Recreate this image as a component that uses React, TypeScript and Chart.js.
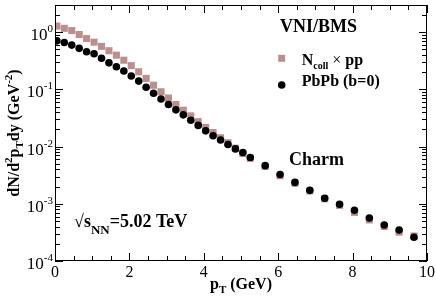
import React, { useEffect, useRef } from "react";
import { Chart, registerables } from "chart.js";

Chart.register(...registerables);

// ---- data ----
const pT = [
  0.05, 0.25, 0.45, 0.65, 0.85, 1.05, 1.25, 1.45, 1.65, 1.85,
  2.05, 2.25, 2.45, 2.65, 2.85, 3.05, 3.25, 3.45, 3.65, 3.85,
  4.05, 4.25, 4.45, 4.65, 4.85, 5.05, 5.25,
  5.65, 6.05, 6.45, 6.85, 7.25, 7.65, 8.05, 8.45, 8.85, 9.25, 9.65,
];
const ncollPP = [
  1.284, 1.172, 1.07, 0.913, 0.779, 0.672, 0.567, 0.476, 0.398, 0.325,
  0.261, 0.204, 0.156, 0.1186, 0.0912, 0.0708, 0.0547, 0.0434, 0.0345, 0.0273,
  0.0217, 0.01765, 0.0143, 0.0117, 0.0094, 0.00757, 0.00625,
  0.00452, 0.0031, 0.0023, 0.00168, 0.00122, 0.00094, 0.000708, 0.000523, 0.000401, 0.00032, 0.000273,
];
const pbpb = [
  0.708, 0.664, 0.597, 0.524, 0.457, 0.422, 0.352, 0.292, 0.249, 0.21,
  0.172, 0.14, 0.1096, 0.086, 0.068, 0.0547, 0.044, 0.036, 0.029, 0.0235,
  0.0189, 0.0155, 0.01305, 0.0109, 0.00913, 0.00788, 0.00646,
  0.00465, 0.00325, 0.00237, 0.00172, 0.00125, 0.00098, 0.000773, 0.000566, 0.000426, 0.000349, 0.000261,
];
const xMajorTicks = [0, 2, 4, 6, 8, 10];
const xTickLabels = ["0", "2", "4", "6", "8", "10"];
const xMinorTicks = [0.5, 1, 1.5, 2.5, 3, 3.5, 4.5, 5, 5.5, 6.5, 7, 7.5, 8.5, 9, 9.5];
const yExponents = [0, -1, -2, -3, -4];
const yMinorMultipliers = [2, 3, 4, 5, 6, 7, 8, 9];
const seriesLabels = ["N", "PbPb (b=0)"];

const SERIF = "'Liberation Serif', 'DejaVu Serif', serif";
const SQUARE_COLOR = "#bc8f8f";

type Seg = { t: string; font: string; dy?: number };

function drawRich(ctx: CanvasRenderingContext2D, segs: Seg[], x: number, y: number, align: "left" | "center" | "right") {
  let total = 0;
  const widths = segs.map((s) => {
    ctx.font = s.font;
    const w = ctx.measureText(s.t).width;
    total += w;
    return w;
  });
  let cx = x;
  if (align === "center") cx = x - total / 2;
  else if (align === "right") cx = x - total;
  ctx.textAlign = "left";
  ctx.textBaseline = "alphabetic";
  segs.forEach((s, i) => {
    ctx.font = s.font;
    ctx.fillText(s.t, cx, y + (s.dy || 0));
    cx += widths[i];
  });
}

const decorPlugin = {
  id: "decor",
  afterDatasetsDraw(chart: any) {
    const ctx: CanvasRenderingContext2D = chart.ctx;
    const xs = chart.scales.x;
    const ys = chart.scales.y;
    const { left, right, top, bottom } = chart.chartArea;
    ctx.save();
    ctx.strokeStyle = "#000";
    ctx.fillStyle = "#000";
    ctx.lineWidth = 1;

    // frame
    ctx.strokeRect(left + 0.5, top + 0.5, right - left - 1, bottom - top - 1);

    const MAJ = 8;
    const MIN = 5;
    ctx.beginPath();
    // x ticks (bottom & top, inward)
    const xt = (v: number, len: number) => {
      const px = Math.round(xs.getPixelForValue(v)) + 0.5;
      ctx.moveTo(px, bottom);
      ctx.lineTo(px, bottom - len);
      ctx.moveTo(px, top);
      ctx.lineTo(px, top + len);
    };
    xMajorTicks.forEach((v) => xt(v, MAJ));
    xMinorTicks.forEach((v) => xt(v, MIN));
    // y ticks (left & right, inward)
    const yt = (v: number, len: number) => {
      const py = Math.round(ys.getPixelForValue(v)) + 0.5;
      if (py < top || py > bottom + 1) return;
      ctx.moveTo(left, py);
      ctx.lineTo(left + len, py);
      ctx.moveTo(right, py);
      ctx.lineTo(right - len, py);
    };
    yExponents.forEach((e) => {
      yt(Math.pow(10, e), MAJ);
      yMinorMultipliers.forEach((m) => yt(m * Math.pow(10, e), MIN));
    });
    ctx.stroke();

    // x tick labels
    xMajorTicks.forEach((v, i) => {
      drawRich(ctx, [{ t: xTickLabels[i], font: `16px ${SERIF}` }], xs.getPixelForValue(v), bottom + 16, "center");
    });
    // y tick labels
    yExponents.forEach((e) => {
      const py = ys.getPixelForValue(Math.pow(10, e));
      drawRich(
        ctx,
        [
          { t: "10", font: `17px ${SERIF}`, dy: 8 },
          { t: e === 0 ? "0" : "-" + Math.abs(e), font: `11px ${SERIF}`, dy: 0 },
        ],
        53,
        py,
        "right"
      );
    });

    // x title
    drawRich(
      ctx,
      [
        { t: "p", font: `bold 16px ${SERIF}` },
        { t: "T", font: `bold 11px ${SERIF}`, dy: 4 },
        { t: " (GeV)", font: `bold 16px ${SERIF}` },
      ],
      (left + right) / 2,
      289,
      "center"
    );

    // y title
    ctx.save();
    ctx.translate(19, (top + bottom) / 2);
    ctx.rotate(-Math.PI / 2);
    drawRich(
      ctx,
      [
        { t: "dN/d", font: `bold 16px ${SERIF}` },
        { t: "2", font: `bold 11px ${SERIF}`, dy: -7 },
        { t: "p", font: `bold 16px ${SERIF}` },
        { t: "T", font: `bold 11px ${SERIF}`, dy: 4 },
        { t: "dy (GeV", font: `bold 16px ${SERIF}` },
        { t: "-2", font: `bold 11px ${SERIF}`, dy: -7 },
        { t: ")", font: `bold 16px ${SERIF}` },
      ],
      0,
      0,
      "center"
    );
    ctx.restore();

    // legend
    drawRich(ctx, [{ t: "VNI/BMS", font: `bold 18px ${SERIF}` }], 280, 32, "left");
    ctx.fillStyle = SQUARE_COLOR;
    ctx.fillRect(278.2, 54.8, 7, 7);
    ctx.fillStyle = "#000";
    drawRich(
      ctx,
      [
        { t: seriesLabels[0], font: `bold 16px ${SERIF}` },
        { t: "coll", font: `bold 10px ${SERIF}`, dy: 4 },
        { t: " \u00d7 ", font: `16px ${SERIF}` },
        { t: "pp", font: `bold 16px ${SERIF}` },
      ],
      301.7,
      65,
      "left"
    );
    ctx.beginPath();
    ctx.arc(281.7, 85, 3.8, 0, Math.PI * 2);
    ctx.fill();
    drawRich(ctx, [{ t: seriesLabels[1], font: `bold 16px ${SERIF}` }], 301.7, 86, "left");

    // annotations
    drawRich(ctx, [{ t: "Charm", font: `bold 18px ${SERIF}` }], 289, 165, "left");
    drawRich(
      ctx,
      [
        { t: "\u221a", font: `18px ${SERIF}` },
        { t: "s", font: `bold 18px ${SERIF}` },
        { t: "NN", font: `bold 13px ${SERIF}`, dy: 7 },
        { t: "=5.02 TeV", font: `bold 18px ${SERIF}` },
      ],
      74,
      227,
      "left"
    );
    ctx.restore();
  },
};

export default function App() {
  const ref = useRef<HTMLCanvasElement | null>(null);
  useEffect(() => {
    document.body.style.margin = "0";
    const canvas = ref.current;
    if (!canvas) return;
    const chart = new Chart(canvas, {
      type: "scatter",
      data: {
        datasets: [
          {
            label: "PbPb (b=0)",
            data: pT.map((x, i) => ({ x, y: pbpb[i] })),
            pointStyle: "circle",
            pointRadius: 3.8,
            pointBorderWidth: 0,
            backgroundColor: "#000",
            borderColor: "#000",
            order: 1,
          },
          {
            label: "Ncoll x pp",
            data: pT.map((x, i) => ({ x, y: ncollPP[i] })),
            pointStyle: "rect",
            pointRadius: 5,
            pointBorderWidth: 0,
            backgroundColor: SQUARE_COLOR,
            borderColor: SQUARE_COLOR,
            order: 2,
          },
        ],
      },
      options: {
        responsive: false,
        animation: false,
        devicePixelRatio: 1,
        layout: { padding: { left: 55, right: 9, top: 2, bottom: 37 } },
        plugins: { legend: { display: false }, tooltip: { enabled: false } },
        scales: {
          x: { type: "linear", min: 0, max: 10, display: false },
          y: { type: "logarithmic", min: 1e-4, max: 3, display: false },
        },
      },
      plugins: [decorPlugin],
    });
    return () => chart.destroy();
  }, []);
  return (
    <div style={{ width: 436, height: 298, background: "#fff" }}>
      <canvas ref={ref} width={436} height={298} style={{ display: "block" }} />
    </div>
  );
}
